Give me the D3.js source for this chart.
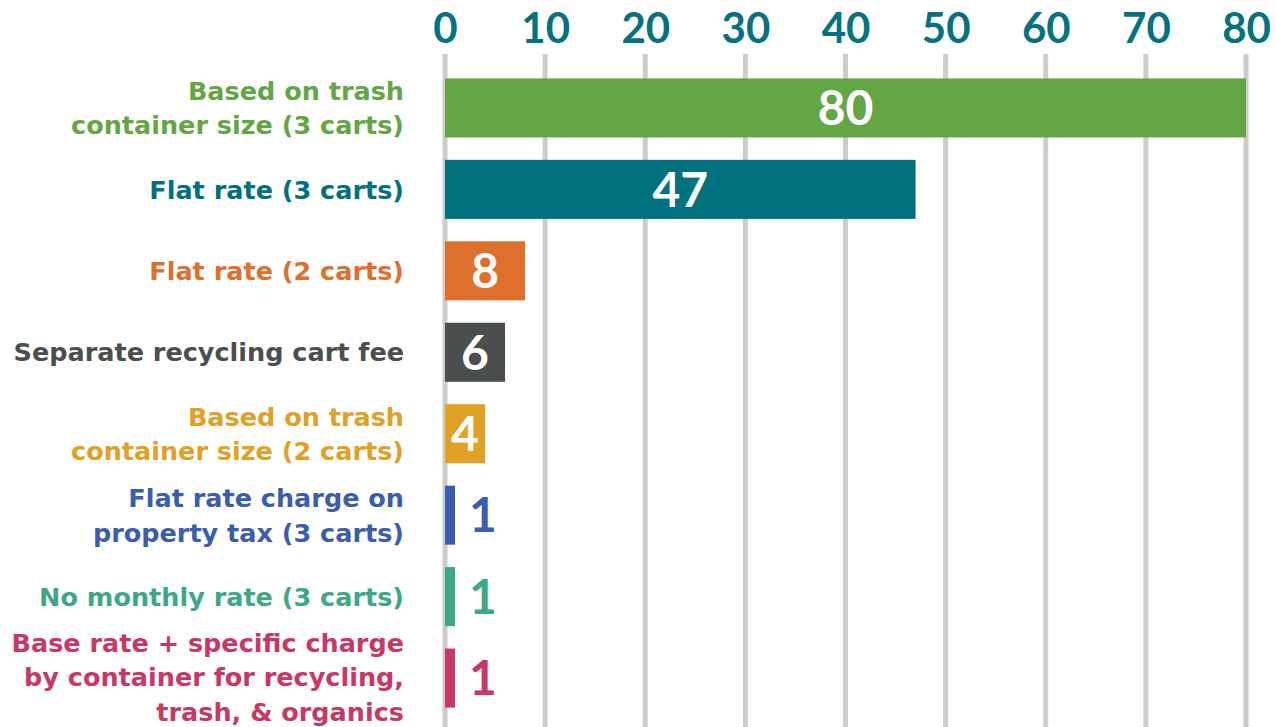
<!DOCTYPE html>
<html>
<head>
<meta charset="utf-8">
<script src="https://cdn.jsdelivr.net/npm/d3@7"></script>
<style>
  html, body { margin: 0; padding: 0; background: #fff; }
  svg { display: block; }
  text { font-family: Lato, "Open Sans", sans-serif; font-weight: 700; }
</style>
</head>
<body>
<svg id="chart" width="1276" height="727"></svg>
<script>
const categories = [
  ["Based on trash", "container size (3 carts)"],
  ["Flat rate (3 carts)"],
  ["Flat rate (2 carts)"],
  ["Separate recycling cart fee"],
  ["Based on trash", "container size (2 carts)"],
  ["Flat rate charge on", "property tax (3 carts)"],
  ["No monthly rate (3 carts)"],
  ["Base rate + specific charge", "by container for recycling,", "trash, & organics"]
];
const values = [80, 47, 8, 6, 4, 1, 1, 1];
const colors = ["#62a744", "#02717f", "#df702c", "#4a4f4d", "#e1a125", "#3a5ead", "#3da886", "#c93864"];
const tickValues = [0, 10, 20, 30, 40, 50, 60, 70, 80];

const svg = d3.select("#chart");
const x = d3.scaleLinear().domain([0, 80]).range([445, 1246]);
const y = d3.scaleBand().domain(d3.range(values.length)).range([67, 719]).paddingInner(0.275).paddingOuter(0.14);

// gridlines
svg.append("g").selectAll("line").data(tickValues).join("line")
  .attr("x1", d => x(d)).attr("x2", d => x(d))
  .attr("y1", 54).attr("y2", 727)
  .attr("stroke", "#cdcccb").attr("stroke-width", 5);

// top axis labels
const axis = d3.axisTop(x).tickValues(tickValues).tickSize(0).tickPadding(0);
const ag = svg.append("g").attr("transform", "translate(0,43)").call(axis);
ag.select(".domain").remove();
ag.selectAll("text").attr("fill", "#06717f").style("font-size", "42px").style("font-family", "Lato, sans-serif").style("font-weight", 700).attr("dy", 0);

// bars
svg.append("g").selectAll("rect").data(values).join("rect")
  .attr("x", x(0))
  .attr("y", (d, i) => y(i))
  .attr("width", d => x(d) - x(0))
  .attr("height", y.bandwidth())
  .attr("fill", (d, i) => colors[i]);

// value labels
svg.append("g").selectAll("text").data(values).join("text")
  .attr("x", d => d >= 4 ? (x(0) + x(d)) / 2 : x(d) + 14)
  .attr("y", (d, i) => y(i) + y.bandwidth() / 2)
  .attr("dy", "0.36em")
  .attr("text-anchor", d => d >= 4 ? "middle" : "start")
  .attr("fill", (d, i) => d >= 4 ? "#fff" : colors[i])
  .style("font-size", "48px")
  .text(d => d);

// category labels
const lineH = 34.3;
const fs = 25.5;
const lg = svg.append("g").selectAll("text").data(categories).join("text")
  .attr("text-anchor", "end")
  .attr("fill", (d, i) => colors[i])
  .style("font-family", "'DejaVu Sans', sans-serif")
  .style("font-size", fs + "px")
  .attr("y", (d, i) => y(i) + y.bandwidth() / 2);
lg.selectAll("tspan").data(d => d.map((t, j) => ({t, j, n: d.length}))).join("tspan")
  .attr("x", 404)
  .attr("dy", (s) => s.j === 0 ? (0.36 * fs - (s.n - 1) * lineH / 2 - (s.n > 2 ? 1 : 0)) + "px" : lineH + "px")
  .text(s => s.t);
</script>
</body>
</html>
